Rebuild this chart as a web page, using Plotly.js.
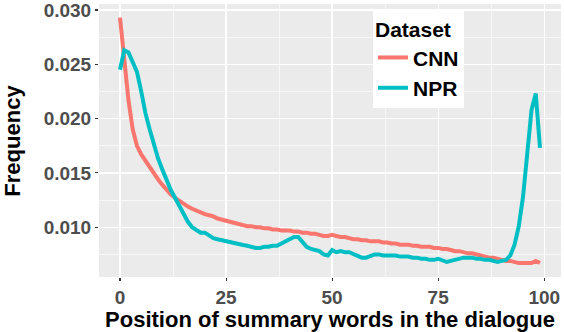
<!DOCTYPE html>
<html>
<head>
<meta charset="utf-8">
<script src="https://cdn.plot.ly/plotly-3.0.1.min.js"></script>
<style>
  html, body { margin: 0; padding: 0; background: #ffffff; }
  #chart { width: 564px; height: 332px; }
</style>
</head>
<body>
<div id="chart"></div>
<script>
// Position of summary words in the dialogue (percent bins)
const positions = [
   0,  1,  2,  3,  4,  5,  6,  7,  8,  9, 10, 11, 12, 13, 14, 15, 16, 17, 18, 19,
  20, 21, 22, 23, 24, 25, 26, 27, 28, 29, 30, 31, 32, 33, 34, 35, 36, 37, 38, 39,
  40, 41, 42, 43, 44, 45, 46, 47, 48, 49, 50, 51, 52, 53, 54, 55, 56, 57, 58, 59,
  60, 61, 62, 63, 64, 65, 66, 67, 68, 69, 70, 71, 72, 73, 74, 75, 76, 77, 78, 79,
  80, 81, 82, 83, 84, 85, 86, 87, 88, 89, 90, 91, 92, 93, 94, 95, 96, 97, 98, 99
];

// Frequency, CNN
const cnnFreq = [
  0.0293, 0.0257, 0.0217, 0.0190, 0.0175, 0.0167, 0.0161, 0.0155, 0.0150, 0.0144,
  0.0139, 0.0134, 0.0130, 0.0127, 0.0124, 0.0121, 0.0119, 0.0117, 0.0115, 0.0114,
  0.0112, 0.0111, 0.0110, 0.0108, 0.0107, 0.0106, 0.0105, 0.0104, 0.0103, 0.0102,
  0.0101, 0.0101, 0.0100, 0.0100, 0.0099, 0.0099, 0.0098, 0.0098, 0.0097, 0.0097,
  0.0097, 0.0096, 0.0096, 0.0095, 0.0095, 0.0094, 0.0094, 0.0093, 0.0092, 0.0092,
  0.0093, 0.0092, 0.0091, 0.0091, 0.0090, 0.0089, 0.0089, 0.0088, 0.0088, 0.0087,
  0.0087, 0.0087, 0.0086, 0.0086, 0.0085, 0.0085, 0.0084, 0.0084, 0.0084, 0.0083,
  0.0083, 0.0082, 0.0082, 0.0082, 0.0081, 0.0081, 0.0080, 0.0080, 0.0079, 0.0078,
  0.0078, 0.0077, 0.0076, 0.0076, 0.0075, 0.0074, 0.0073, 0.0072, 0.0072, 0.0071,
  0.0070, 0.0069, 0.0069, 0.0068, 0.0067, 0.0067, 0.0067, 0.0067, 0.0069, 0.0067
];

// Frequency, NPR
const nprFreq = [
  0.0245, 0.0263, 0.0261, 0.0252, 0.0243, 0.0225, 0.0205, 0.0190, 0.0175, 0.0163,
  0.0153, 0.0143, 0.0134, 0.0127, 0.0119, 0.0111, 0.0105, 0.0100, 0.0097, 0.0095,
  0.0095, 0.0092, 0.0090, 0.0089, 0.0088, 0.0087, 0.00865, 0.0085, 0.0084, 0.00837,
  0.0083, 0.0082, 0.0081, 0.0081, 0.0082, 0.0082, 0.0083, 0.0083, 0.0085, 0.0087,
  0.0090, 0.0091, 0.0091, 0.0087, 0.0082, 0.0080, 0.0079, 0.0078, 0.0075, 0.0074,
  0.0079, 0.0077, 0.0078, 0.0077, 0.0077, 0.0075, 0.0074, 0.0072, 0.0072, 0.0074,
  0.0075, 0.0075, 0.0074, 0.0074, 0.0074, 0.0074, 0.0073, 0.0073, 0.0073, 0.0072,
  0.0072, 0.0071, 0.0071, 0.0070, 0.0070, 0.0071, 0.0069, 0.0068, 0.0069, 0.0070,
  0.0071, 0.0072, 0.0072, 0.0072, 0.0071, 0.0071, 0.0070, 0.0070, 0.0069, 0.0068,
  0.0069, 0.0070, 0.0074, 0.0084, 0.0101, 0.0128, 0.0168, 0.0208, 0.0223, 0.0173
];

const seriesNames = ['CNN', 'NPR'];
const seriesColors = ['#F8766D', '#00BFC4'];

const xTicks = [0, 25, 50, 75, 100];
const yTicks = [0.010, 0.015, 0.020, 0.025, 0.030];
const yTickText = ['0.010', '0.015', '0.020', '0.025', '0.030'];

const data = [cnnFreq, nprFreq].map((vals, i) => ({
    x: positions,
    y: vals,
    name: seriesNames[i],
    type: 'scatter',
    mode: 'lines',
    line: { color: seriesColors[i], width: 4 }
}));

const fam = 'Liberation Sans, Arial, sans-serif';
const tickFont = { family: fam, size: 19, color: '#4D4D4D', weight: 'bold' };
const titleFont = { family: fam, size: 22, color: '#000000', weight: 'bold' };
const legendFont = { family: fam, size: 21, color: '#000000', weight: 'bold' };

const layout = {
    width: 564,
    height: 332,
    margin: { l: 99, r: 3, t: 4, b: 55 },
    paper_bgcolor: '#FFFFFF',
    plot_bgcolor: '#EBEBEB',
    showlegend: true,
    xaxis: {
        range: [-4.95, 103.95],
        tickvals: xTicks,
        ticks: 'outside',
        ticklen: 3,
        tickwidth: 1.1,
        tickcolor: '#333333',
        tickfont: tickFont,
        ticklabeloverflow: 'allow',
        showgrid: true,
        gridcolor: '#FFFFFF',
        gridwidth: 1.3,
        zeroline: false,
        showline: false,
        minor: { tickvals: [12.5, 37.5, 62.5, 87.5], showgrid: true, gridcolor: '#FFFFFF', gridwidth: 0.6, ticks: '' },
        title: { text: 'Position of summary words in the dialogue', font: titleFont, standoff: 3 }
    },
    yaxis: {
        range: [0.00542, 0.03055],
        tickvals: yTicks,
        ticktext: yTickText,
        ticks: 'outside',
        ticklen: 3,
        tickwidth: 1.1,
        tickcolor: '#333333',
        tickfont: tickFont,
        ticklabeloverflow: 'allow',
        showgrid: true,
        gridcolor: '#FFFFFF',
        gridwidth: 1.3,
        zeroline: false,
        showline: false,
        minor: { tickvals: [0.0075, 0.0125, 0.0175, 0.0225, 0.0275], showgrid: true, gridcolor: '#FFFFFF', gridwidth: 0.6, ticks: '' }
    },
    // y axis title placed like ggplot's, right at the left edge
    annotations: [{
        text: 'Frequency',
        xref: 'paper', yref: 'paper',
        x: -0.188, y: 0.5,
        xanchor: 'center', yanchor: 'middle',
        textangle: -90,
        showarrow: false,
        font: titleFont
    }],
    legend: {
        x: 0.593,
        y: 0.978,
        xanchor: 'left',
        yanchor: 'top',
        bgcolor: '#FFFFFF',
        borderwidth: 0,
        font: legendFont,
        title: { text: 'Dataset', font: legendFont },
        itemwidth: 30,
        tracegroupgap: 0
    }
};

Plotly.newPlot('chart', data, layout, { displayModeBar: false, staticPlot: true });
</script>
</body>
</html>
